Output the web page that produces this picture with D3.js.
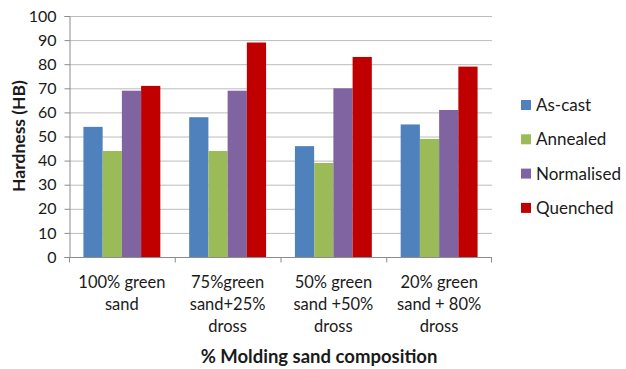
<!DOCTYPE html>
<html><head><meta charset="utf-8">
<script src="https://cdn.jsdelivr.net/npm/d3@7"></script>
<style>body{margin:0;background:#fff}svg{display:block;font-family:Lato,"Open Sans",sans-serif}</style>
</head><body><svg id="c" width="626" height="369"></svg>
<script>
const categories = [["100% green","sand"],["75%green","sand+25%","dross"],["50% green","sand +50%","dross"],["20% green","sand + 80%","dross"]];
const seriesNames = ["As-cast","Annealed","Normalised","Quenched"];
const asCast = [54,58,46,55];
const annealed = [44,44,39,49];
const normalised = [69,69,70,61];
const quenched = [71,89,83,79];
const yTicks = [0,10,20,30,40,50,60,70,80,90,100];
const colors = ["#4F81BD","#9BBB59","#8064A2","#C00000"];
const series = [asCast, annealed, normalised, quenched];

(function(){
const svg = d3.select("#c");
const pL = 69, pR = 492, pT = 16, pB = 257;
const x = d3.scaleBand().domain(d3.range(categories.length)).range([pL,pR]).paddingInner(0).paddingOuter(0);
const y = d3.scaleLinear().domain([0,100]).range([pB,pT]);
const xs = d3.scaleBand().domain(d3.range(series.length)).range([0,x.bandwidth()]).paddingOuter(0.75).paddingInner(0);

// gridlines
svg.append("g").selectAll("line").data(yTicks.filter(d=>d>0)).join("line")
  .attr("x1",pL).attr("x2",pR).attr("y1",d=>y(d)+0.5).attr("y2",d=>y(d)+0.5)
  .attr("stroke","#bcbcbc").attr("stroke-width",1);

// bars
series.forEach((s,si)=>{
  svg.append("g").selectAll("rect").data(s).join("rect")
    .attr("x",(d,i)=>x(i)+xs(si)).attr("width",xs.bandwidth())
    .attr("y",d=>y(d)).attr("height",d=>pB-y(d)).attr("fill",colors[si]);
});

// y axis
const ya = svg.append("g").attr("transform",`translate(${pL+0.5},0)`)
  .call(d3.axisLeft(y).tickValues(yTicks).tickSize(5).tickPadding(8));
ya.select(".domain").attr("stroke","#8c8c8c");
ya.selectAll(".tick line").attr("stroke","#8c8c8c");
ya.selectAll("text").attr("font-size",16).attr("fill","#1a1a1a").attr("font-family","Lato");

// x axis
const xa = svg.append("g").attr("transform",`translate(0,${pB+0.5})`);
xa.append("line").attr("x1",pL).attr("x2",pR).attr("stroke","#8c8c8c");
xa.selectAll("line.t").data(d3.range(categories.length+1)).join("line").attr("class","t")
  .attr("x1",i=>i<categories.length? x(i)+0.5 : pR-0.5).attr("x2",i=>i<categories.length? x(i)+0.5 : pR-0.5)
  .attr("y1",0).attr("y2",5).attr("stroke","#8c8c8c");
const lab = svg.append("g").selectAll("text").data(categories).join("text")
  .attr("x",(d,i)=>x(i)+x.bandwidth()/2).attr("y",288)
  .attr("text-anchor","middle").attr("font-size",16.5).attr("fill","#1a1a1a");
lab.each(function(d){
  const cx = d3.select(this).attr("x");
  d3.select(this).selectAll("tspan").data(d).join("tspan")
    .attr("x",cx).attr("dy",(t,j)=>j===0?0:22).text(t=>t);
});

// titles
svg.append("text").attr("transform","translate(25,136) rotate(-90)").attr("text-anchor","middle")
  .attr("font-size",17.5).attr("font-weight","bold").attr("fill","#1a1a1a").text("Hardness (HB)");
svg.append("text").attr("x",319).attr("y",363).attr("text-anchor","middle")
  .attr("font-size",18.5).attr("font-weight","bold").attr("fill","#1a1a1a").text("% Molding sand composition");

// legend
const lg = svg.append("g").selectAll("g").data(seriesNames).join("g")
  .attr("transform",(d,i)=>`translate(521,${105+i*34.3})`);
lg.append("rect").attr("x",0).attr("y",-5).attr("width",10).attr("height",10).attr("fill",(d,i)=>colors[i]);
lg.append("text").attr("x",15).attr("y",6).attr("font-size",17).attr("fill","#1a1a1a").text(d=>d);
})();
</script></body></html>
